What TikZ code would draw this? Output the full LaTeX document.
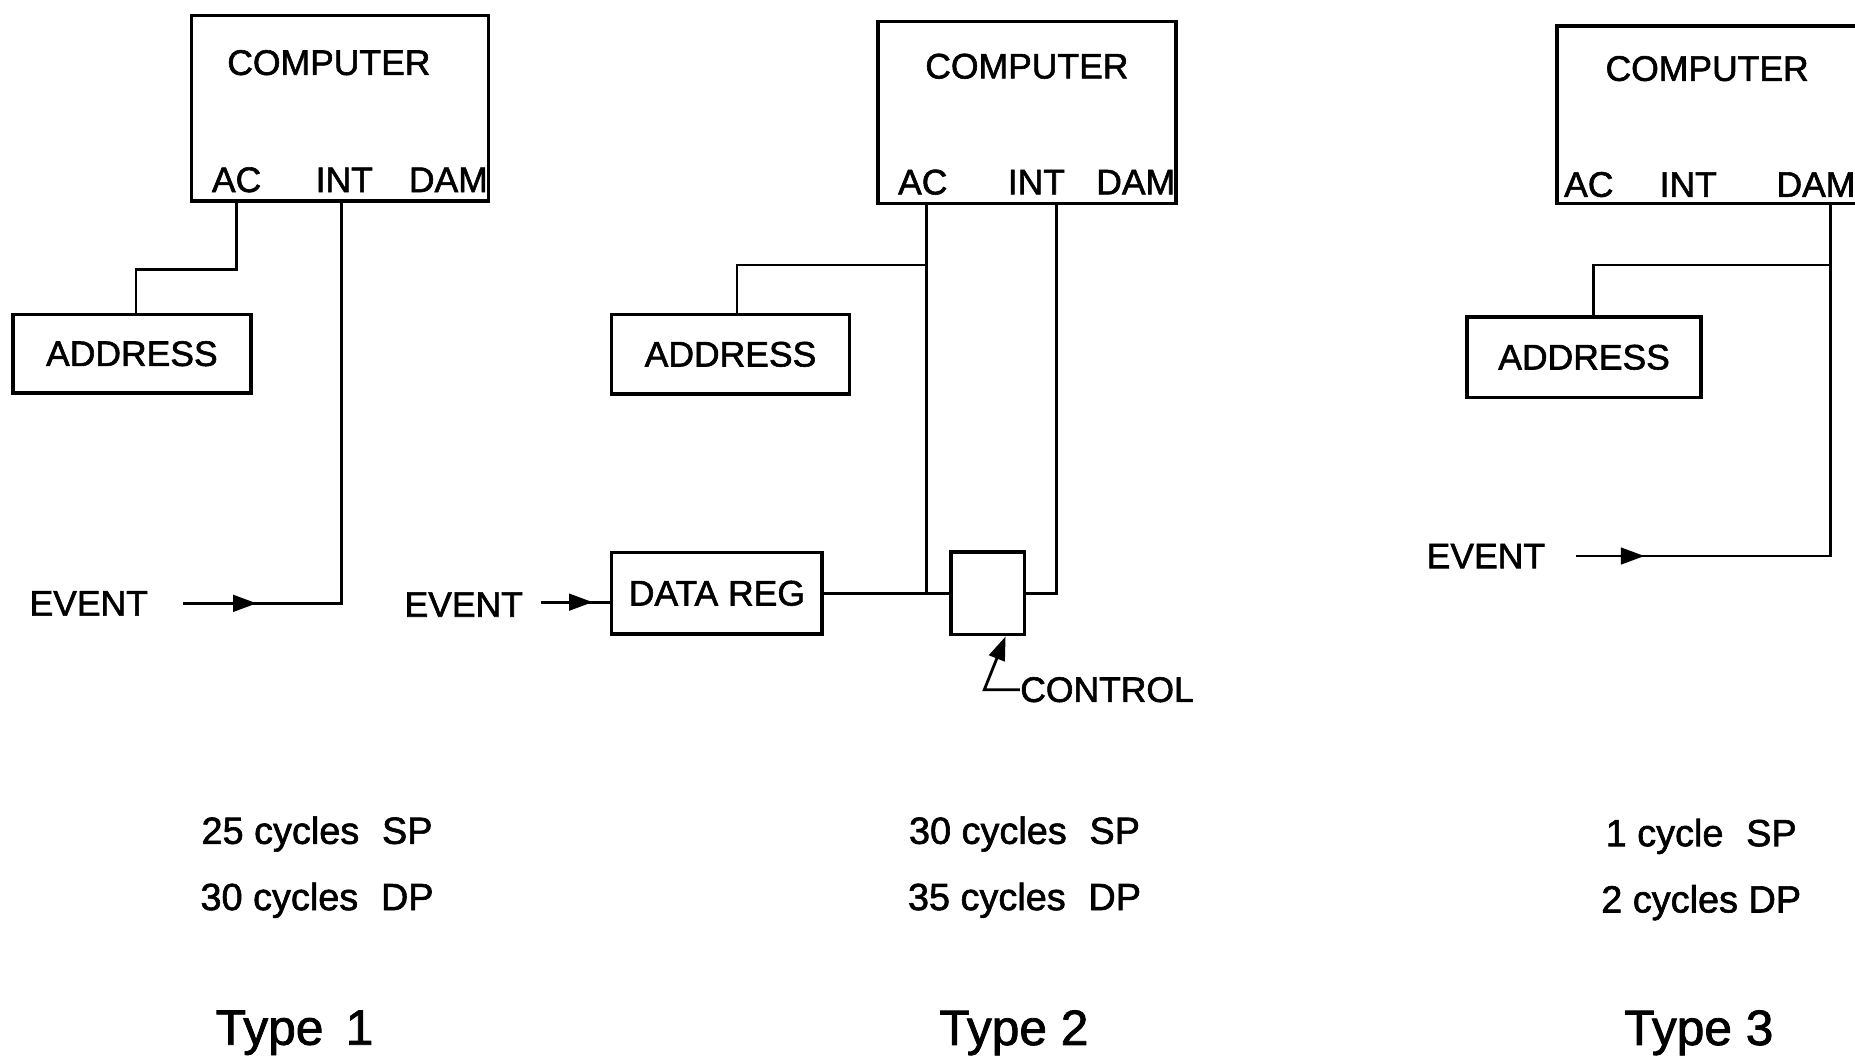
\documentclass[tikz,border=0pt]{standalone}
\usepackage{fontspec}
\setmainfont{Liberation Sans}[FakeBold=1.6]
\usetikzlibrary{arrows.meta,decorations.markings,calc}
\begin{document}
\begin{tikzpicture}[x=0.5pt,y=-0.5pt,
  blk/.style={draw,line width=1.5pt,inner sep=0pt,font=\fontsize{15}{18}\selectfont},
  lbl/.style={inner sep=0pt,font=\fontsize{15}{18}\selectfont},
  wire/.style={line width=1.2pt,line join=miter},
  cyc/.style={inner sep=0pt,font=\fontsize{16}{19}\selectfont},
  ttl/.style={inner sep=0pt,font=\fontsize{21}{25}\selectfont},
  tip/.style={-{Triangle[length=10pt,width=7pt]}},
  midarr/.style={postaction={decorate},decoration={markings,
     mark=at position #1 with {\arrow{Triangle[length=10pt,width=7pt]}}}}]
\useasboundingbox (0,0) rectangle (1568,897);

% ---------------- Panel 1 ----------------
\node[blk,minimum width=125.5pt,minimum height=78.5pt] (comp1) at (287.5,91.5) {};
\node[lbl] (cname1) at (278,53) {COMPUTER};
\node[lbl] (ac1) at (200,152) {AC};
\node[lbl] (int1) at (291,152) {INT};
\node[lbl] (dam1) at (379,152) {DAM};
\node[blk,minimum width=100.5pt,minimum height=33pt] (addr1) at (111.5,299) {ADDRESS};
\node[lbl] (ev1) at (75,510) {EVENT};
\coordinate (p1ac) at (200,170);
\coordinate (p1int) at (289,170);
\coordinate (e1s) at (155,510);
\draw[wire] (p1ac) |- (115,228) -- (addr1.north -| 115,228);
\draw[wire,midarr=31pt] (e1s) -- (289,510) -- (p1int);

% ---------------- Panel 2 ----------------
\node[blk,minimum width=126pt,minimum height=77pt] (comp2) at (868,95) {};
\node[lbl] (cname2) at (868,56) {COMPUTER};
\node[lbl] (ac2) at (780,154) {AC};
\node[lbl] (int2) at (876,154) {INT};
\node[lbl] (dam2) at (960,154) {DAM};
\node[blk,minimum width=100.5pt,minimum height=33.5pt] (addr2) at (617.5,299.5) {ADDRESS};
\node[blk,minimum width=89pt,minimum height=34.5pt] (dreg) at (606,501.5) {DATA REG};
\node[blk,minimum width=31pt,minimum height=35pt] (gate) at (835,501.5) {};
\node[lbl] (ev2) at (392,511) {EVENT};
\node[lbl,anchor=west] (ctl) at (862,583) {CONTROL};
\coordinate (p2ac) at (783,172);
\coordinate (p2int) at (893,172);
\coordinate (e2s) at (457,509);
\coordinate (gb) at ($(gate.south)+(15,0)$);
\draw[wire] (dreg.east) -- (gate.west);
\draw[wire] (p2ac) -- (p2ac |- dreg.east);
\draw[wire] (783,224) -| (addr2.north -| 623,224);
\draw[wire] (p2int) |- (gate.east);
\draw[wire,midarr=22pt] (e2s) -- (e2s -| dreg.west);
\draw[wire,tip] (ctl.west) -- (832,583) -- (gb);

% ---------------- Panel 3 ----------------
\node[blk,minimum width=127pt,minimum height=75pt] (comp3) at (1443,97) {};
\node[lbl] (cname3) at (1443,58) {COMPUTER};
\node[lbl] (ac3) at (1343,156) {AC};
\node[lbl] (int3) at (1427,156) {INT};
\node[lbl] (dam3) at (1535,156) {DAM};
\node[blk,minimum width=99pt,minimum height=34pt] (addr3) at (1339,302) {ADDRESS};
\node[lbl] (ev3) at (1256,470) {EVENT};
\coordinate (p3dam) at (1547,172);
\coordinate (e3s) at (1332,470);
\draw[wire] (1547,224) -| (addr3.north -| 1347,224);
\draw[wire,midarr=29pt] (e3s) -- (1547,470) -- (p3dam);

% ---------------- Captions ----------------
\node[cyc] (c1a) at (268,705) {25 cycles\hspace{0.6em}SP};
\node[cyc] (c1b) at (268,761) {30 cycles\hspace{0.6em}DP};
\node[ttl] (t1) at (249,873) {Type\hspace{0.45em}1};
\node[cyc] (c2a) at (866,705) {30 cycles\hspace{0.6em}SP};
\node[cyc] (c2b) at (866,761) {35 cycles\hspace{0.6em}DP};
\node[ttl] (t2) at (857,873) {Type 2};
\node[cyc] (c3a) at (1438,707) {1 cycle\hspace{0.6em}SP};
\node[cyc] (c3b) at (1438,763) {2 cycles DP};
\node[ttl] (t3) at (1436,873) {Type 3};
\end{tikzpicture}
\end{document}
